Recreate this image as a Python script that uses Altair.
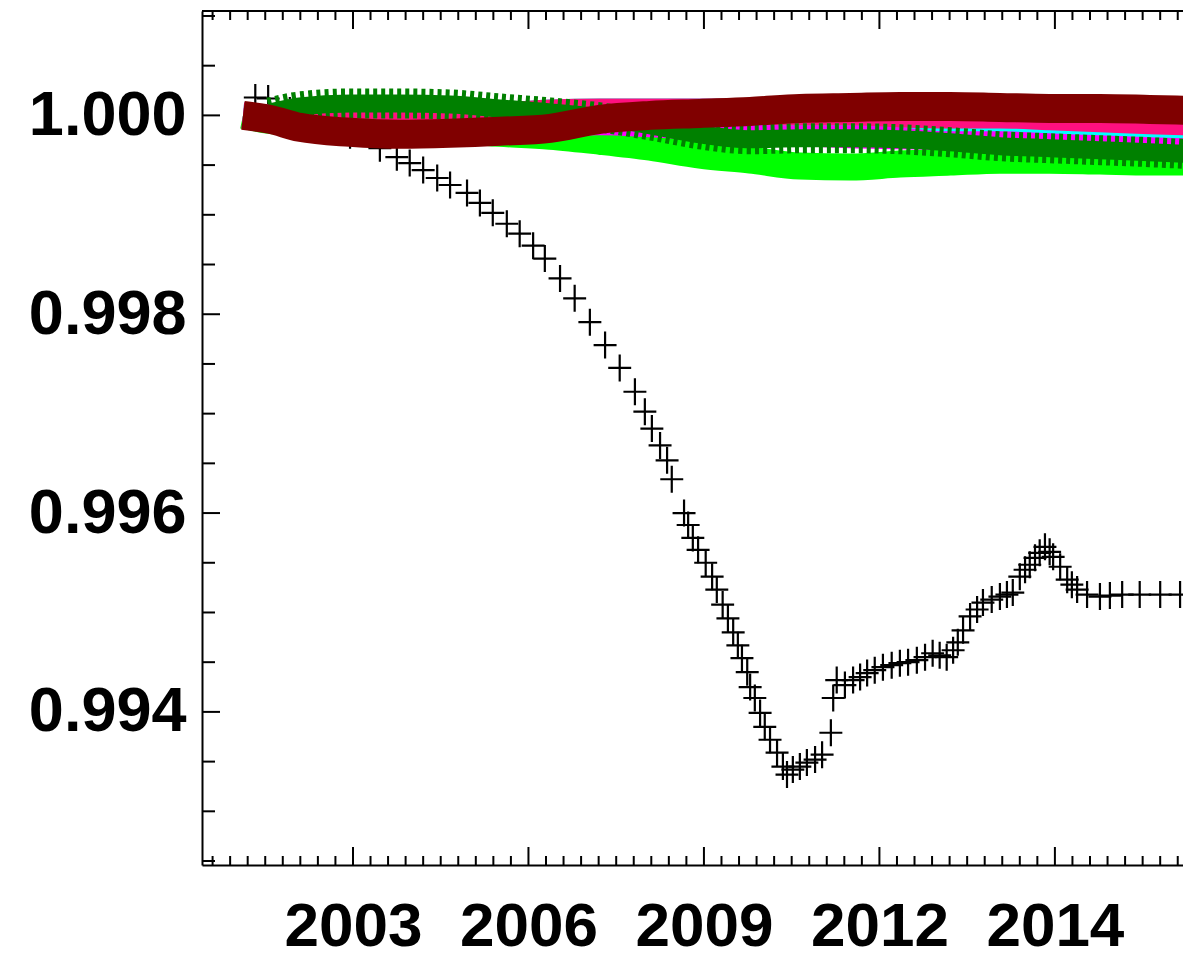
import altair as alt
import pandas as pd

# ---------------------------------------------------------------------------
# Normalised ratio series against decimal year
# ---------------------------------------------------------------------------
BLACK_YEAR = [
    2001.33, 2001.55, 2001.92, 2002.44, 2002.95, 2003.46, 2003.75, 2003.97,
    2004.20, 2004.44, 2004.66, 2004.95, 2005.17, 2005.39, 2005.63, 2005.85,
    2006.08, 2006.28, 2006.54, 2006.79, 2007.05, 2007.31, 2007.56, 2007.82,
    2007.99, 2008.11, 2008.25, 2008.37, 2008.45, 2008.66, 2008.73, 2008.81,
    2008.90, 2009.03, 2009.14, 2009.22, 2009.32, 2009.41, 2009.50, 2009.58,
    2009.65, 2009.74, 2009.79, 2009.87, 2009.96, 2010.04, 2010.13, 2010.25,
    2010.35, 2010.42, 2010.52, 2010.64, 2010.76, 2010.90, 2011.02, 2011.17,
    2011.21, 2011.27, 2011.41, 2011.55, 2011.67, 2011.79, 2011.92, 2012.06,
    2012.21, 2012.35, 2012.49, 2012.64, 2012.78, 2012.91, 2013.03, 2013.15,
    2013.26, 2013.34, 2013.43, 2013.55, 2013.67, 2013.77, 2013.92, 2014.06,
    2014.18, 2014.28, 2014.40, 2014.49, 2014.57, 2014.66, 2014.74, 2014.83,
    2014.91, 2014.97, 2015.09, 2015.21, 2015.29, 2015.38, 2015.55, 2015.77,
    2015.94, 2016.15, 2016.45, 2016.80, 2017.14,
]
BLACK_VAL = [
    1.00018, 1.00017, 1.00005, 0.99992, 0.99980, 0.99967, 0.99958, 0.99952,
    0.99945, 0.99937, 0.99930, 0.99922, 0.99912, 0.99902, 0.99891, 0.99881,
    0.99869, 0.99856, 0.99836, 0.99816, 0.99792, 0.99769, 0.99746, 0.99722,
    0.99702, 0.99685, 0.99668, 0.99653, 0.99634, 0.99600, 0.99588, 0.99575,
    0.99563, 0.99550, 0.99536, 0.99523, 0.99508, 0.99494, 0.99480, 0.99467,
    0.99454, 0.99440, 0.99425, 0.99414, 0.99399, 0.99385, 0.99372, 0.99359,
    0.99345, 0.99337, 0.99342, 0.99345, 0.99349, 0.99352, 0.99357, 0.99379,
    0.99414, 0.99432, 0.99427, 0.99432, 0.99435, 0.99439, 0.99442, 0.99445,
    0.99447, 0.99449, 0.99450, 0.99452, 0.99455, 0.99459, 0.99457, 0.99455,
    0.99462, 0.99470, 0.99482, 0.99496, 0.99503, 0.99510, 0.99513, 0.99516,
    0.99518, 0.99520, 0.99536, 0.99543, 0.99548, 0.99555, 0.99560, 0.99566,
    0.99561, 0.99556, 0.99546, 0.99533, 0.99528, 0.99523, 0.99518, 0.99516,
    0.99517, 0.99518, 0.99518, 0.99518, 0.99518,
]

# The densely sampled series, read on a common set of years
BAND_YEAR = [
    2001.12, 2001.58, 2002.09, 2002.95, 2003.80, 2004.66, 2005.51, 2006.37,
    2007.22, 2008.08, 2008.93, 2009.79, 2010.64, 2011.50, 2012.35, 2013.21,
    2014.06, 2014.91, 2015.77, 2016.62, 2017.30,
]
LIME = [
    1.00000, 0.99995, 0.99993, 0.99989, 0.99987, 0.99985, 0.99982, 0.99979,
    0.99974, 0.99968, 0.99960, 0.99955, 0.99949, 0.99948, 0.99951, 0.99953,
    0.99955, 0.99955, 0.99954, 0.99953, 0.99953,
]
MAGENTA = [
    1.00000, 0.99997, 0.99995, 0.99993, 0.99992, 0.99992, 0.99992, 0.99992,
    0.99993, 0.99991, 0.99988, 0.99985, 0.99982, 0.99980, 0.99979, 0.99978,
    0.99976, 0.99975, 0.99974, 0.99973, 0.99973,
]
CYAN = [
    1.00000, 0.99998, 0.99997, 0.99997, 0.99998, 0.99999, 1.00000, 1.00003,
    1.00004, 1.00004, 1.00004, 1.00004, 1.00003, 1.00003, 1.00001, 0.99997,
    0.99997, 0.99995, 0.99993, 0.99991, 0.99990,
]
PINK = [
    1.00000, 0.99998, 0.99997, 0.99997, 0.99998, 0.99999, 1.00000, 1.00003,
    1.00004, 1.00004, 1.00004, 1.00004, 1.00003, 1.00003, 1.00001, 1.00000,
    1.00000, 0.99998, 0.99996, 0.99994, 0.99993,
]
DARKGREEN = [
    None, 1.00003, 1.00009, 1.00012, 1.00012, 1.00011, 1.00007, 1.00003,
    0.99998, 0.99990, 0.99981, 0.99976, 0.99977, 0.99977, 0.99976, 0.99973,
    0.99969, 0.99967, 0.99965, 0.99963, 0.99961,
]
MAROON = [
    1.00000, 0.99996, 0.99988, 0.99983, 0.99981, 0.99982, 0.99984, 0.99987,
    0.99996, 1.00000, 1.00002, 1.00004, 1.00007, 1.00008, 1.00009, 1.00009,
    1.00008, 1.00007, 1.00007, 1.00006, 1.00005,
]

# Axes
X_DOMAIN = [2000.419, 2017.19]
Y_DOMAIN = [0.99246, 1.00105]
X_MAJOR = [2003, 2006, 2009, 2012, 2015]
X_LABELS = ["2003", "2006", "2009", "2012", "2014"]
Y_MAJOR = [0.994, 0.996, 0.998, 1.000]

W, H = 981, 854
FONT = "Liberation Sans"

x_minor = [round(2000.6 + 0.3 * k, 2) for k in range(56)]
x_minor = [t for t in x_minor if X_DOMAIN[0] <= t <= X_DOMAIN[1]
           and min(abs(t - m) for m in X_MAJOR) > 0.01]
y_minor = [round(0.9925 + 0.0005 * k, 4) for k in range(18)]
y_minor = [t for t in y_minor if min(abs(t - m) for m in Y_MAJOR) > 1e-5]

xs = alt.Scale(domain=X_DOMAIN, zero=False, nice=False)
ys = alt.Scale(domain=Y_DOMAIN, zero=False, nice=False)

label_expr = (
    "[" + ", ".join(f"'{s}'" for s in X_LABELS) + "]"
    "[indexof([" + ", ".join(str(v) for v in X_MAJOR) + "], datum.value)]"
)

axis_common = dict(
    title=None, grid=False, ticks=False, tickSize=0,
    domain=True, domainColor="black", domainWidth=2,
    labelFont=FONT, labelFontWeight="bold",
    labelColor="black", labelFlush=False, labelOverlap=False,
)
x_axis = alt.Axis(values=X_MAJOR, labelExpr=label_expr, labelPadding=31,
                  labelFontSize=62, orient="bottom", **axis_common)
y_axis = alt.Axis(values=Y_MAJOR, format=".3f", labelPadding=16,
                  labelFontSize=63, orient="left", **axis_common)


def X(field):
    return alt.X(f"{field}:Q", scale=xs, axis=x_axis)


def Y(field):
    return alt.Y(f"{field}:Q", scale=ys, axis=y_axis)


black_df = pd.DataFrame({"year": BLACK_YEAR, "value": BLACK_VAL})

plus_shape = "M-0.85,0L0.85,0M0,-1L0,1"
black = alt.Chart(black_df).mark_point(
    shape=plus_shape, size=729, filled=False, stroke="black",
    strokeWidth=2.2, opacity=1, clip=True,
).encode(x=X("year"), y=Y("value"))


def band(values, color, width, dash=None):
    df = pd.DataFrame({"year": BAND_YEAR, "value": values}).dropna()
    kw = dict(color=color, strokeWidth=width, strokeCap="butt",
              interpolate="monotone", clip=True)
    if dash:
        kw["strokeDash"] = dash
    return alt.Chart(df).mark_line(**kw).encode(x=X("year"), y=Y("value"))


lime = band(LIME, "#00FF00", 27)
magenta = band(MAGENTA, "#FF00FF", 26)
cyan = band(CYAN, "#00FFFF", 26)
pink = band(PINK, "#FF1080", 26)
green_bars = band(DARKGREEN, "#008000", 30, dash=[4, 4])
green_core = band(DARKGREEN, "#008000", 18)
maroon = band(MAROON, "#800000", 29)


# Inward-pointing tick marks on the frame
def x_ticks(values, at_bottom, length):
    y0 = H if at_bottom else 0
    y1 = H - length if at_bottom else length
    df = pd.DataFrame({"year": values})
    return alt.Chart(df).mark_rule(color="black", strokeWidth=2).encode(
        x=X("year"), y=alt.value(y0), y2=alt.value(y1))


def y_ticks(values, length):
    df = pd.DataFrame({"value": values})
    return alt.Chart(df).mark_rule(color="black", strokeWidth=2).encode(
        y=Y("value"), x=alt.value(0), x2=alt.value(length))


ticks = [
    x_ticks(X_MAJOR, True, 18),
    x_ticks(x_minor, True, 9),
    x_ticks(X_MAJOR, False, 18),
    x_ticks(x_minor, False, 9),
    y_ticks(Y_MAJOR, 18),
    y_ticks(y_minor, 13),
]

top_line = alt.Chart(pd.DataFrame({"a": [0]})).mark_rule(
    color="black", strokeWidth=2
).encode(x=alt.value(0), x2=alt.value(W), y=alt.value(0))

chart = alt.layer(
    black, lime, magenta, cyan, pink, green_bars, green_core, maroon,
    top_line, *ticks,
).properties(
    width=W, height=H,
    padding={"left": 202, "top": 11, "right": 0, "bottom": 92},
    autosize=alt.AutoSizeParams(type="none"),
).configure_view(stroke=None)

chart.save("out.html", embed_options={"renderer": "svg", "actions": False})
